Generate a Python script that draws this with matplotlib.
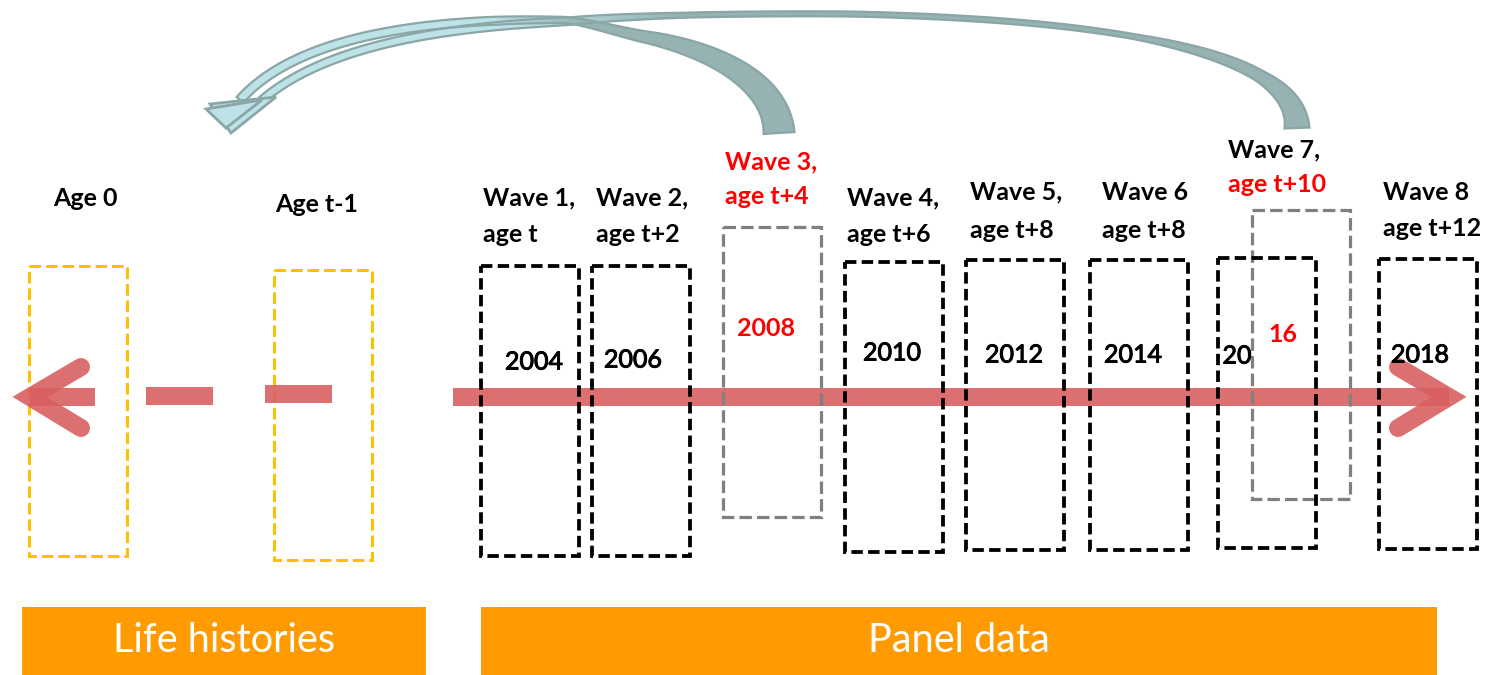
import numpy as np
import matplotlib
matplotlib.use('Agg')
import matplotlib.pyplot as plt
import matplotlib.patheffects as pe
from matplotlib.patches import Rectangle, Polygon
from matplotlib.colors import to_rgb

plt.rcParams['font.family'] = ['Lato', 'DejaVu Sans']

# diagram content
wave_labels = ["Wave 1,", "Wave 2,", "Wave 3,", "Wave 4,", "Wave 5,", "Wave 6", "Wave 7,", "Wave 8"]
age_labels = ["age t", "age t+2", "age t+4", "age t+6", "age t+8", "age t+8", "age t+10", "age t+12"]
years = ["2004", "2006", "2008", "2010", "2012", "2014", "2016", "2018"]
history_labels = ["Age 0", "Age t-1"]
section_labels = ["Life histories", "Panel data"]

# layout (pixel coords, y downwards)
box_x = [481, 592, 723, 845, 966, 1090, 1218, 1379]
box_top = [266, 266, 227, 262, 260, 260, 258, 259]
box_w = 98
box_h = 290
lab_x = [483, 596, 725, 847, 970, 1102, 1228, 1383]
lab_y1 = [198, 198, 162, 198, 192, 192, 150, 192]
lab_y2 = [235, 235, 197, 235, 230, 230, 185, 229]
year_x = [534, 633, 766, 892, 1014, 1133, 1237, 1420]
year_y = [362, 360, 328, 353, 355, 355, 356, 355]

hist_box_x = [29, 274]
hist_box_top = [266, 270]
hist_lab_x = [85, 317]
hist_lab_y = [198, 205]

RED = '#FF0000'
ARROW = '#D95F5F'
TEAL = '#8AA6A6'
PX = 0.72  # px -> pt at 100 dpi

fig = plt.figure(figsize=(14.95, 6.75), dpi=100)
ax = fig.add_axes([0, 0, 1, 1])
ax.set_xlim(0, 1495)
ax.set_ylim(675, 0)
ax.axis('off')

dash = (0, (3.9, 1.6))
bdash = (0, (3.0, 1.4))
medium = [pe.withStroke(linewidth=0.7, foreground='black')]

# red time arrow
aw = 18 * PX
kw = dict(color=ARROW, lw=aw, alpha=0.9)
ax.plot([453, 1449], [397, 397], solid_capstyle='butt', zorder=2, **kw)
ax.plot([1398, 1449, 1398], [367, 397, 428], solid_capstyle='round',
        solid_joinstyle='miter', zorder=2, **kw)
ax.plot([95, 30], [397, 397], solid_capstyle='butt', zorder=4, **kw)
ax.plot([81, 30, 81], [367, 397, 428], solid_capstyle='round',
        solid_joinstyle='miter', zorder=4, **kw)
ax.plot([146, 213], [396, 396], solid_capstyle='butt', zorder=4, **kw)
ax.plot([265, 332], [394, 394], solid_capstyle='butt', zorder=4, **kw)

# life history boxes
for x, t, lab, lx, ly in zip(hist_box_x, hist_box_top, history_labels, hist_lab_x, hist_lab_y):
    ax.add_patch(Rectangle((x, t), box_w, box_h, fill=False, ec='#FFC000', lw=3 * PX,
                           ls=dash, zorder=3))
    ax.text(lx, ly, lab, ha='center', va='center', fontsize=18, fontweight='bold')

# panel waves
for i in range(len(years)):
    grey = i == 2
    ax.add_patch(Rectangle((box_x[i], box_top[i]), box_w, box_h, fill=False,
                           ec='#808080' if grey else 'black', lw=(3.2 if grey else 3.8) * PX,
                           ls=dash if grey else bdash, zorder=3 if grey else 5))
    c1 = RED if i == 2 else 'black'
    c2 = RED if i in (2, 6) else 'black'
    ax.text(lab_x[i], lab_y1[i], wave_labels[i], ha='left', va='center', fontsize=18,
            fontweight='bold', color=c1)
    ax.text(lab_x[i], lab_y2[i], age_labels[i], ha='left', va='center', fontsize=18,
            fontweight='bold', color=c2)
    if i == 6:
        ax.text(year_x[i], year_y[i], years[i][:2], ha='center', va='center', fontsize=18,
                path_effects=medium, zorder=6)
        ax.text(year_x[i] + 46, year_y[i] - 21, years[i][2:], ha='center', va='center',
                fontsize=18, fontweight='bold', color=RED, zorder=6)
    elif i == 2:
        ax.text(year_x[i], year_y[i], years[i], ha='center', va='center', fontsize=18,
                fontweight='bold', color=RED, zorder=6)
    else:
        ax.text(year_x[i], year_y[i], years[i], ha='center', va='center', fontsize=18,
                path_effects=medium, zorder=6)

# extra grey box for wave 7 (shifted)
ax.add_patch(Rectangle((1252, 210), box_w, box_h - 1, fill=False, ec='#808080',
                       lw=3.2 * PX, ls=dash, zorder=4))

# section bars
for (x0, x1), lab in zip([(22, 426), (481, 1437)], section_labels):
    ax.add_patch(Rectangle((x0, 607), x1 - x0, 70, color='#FF9A00', lw=0, zorder=2))
    ax.text((x0 + x1) / 2, 641, lab, ha='center', va='center', fontsize=28.5, color='white', zorder=3)


# curved teal arrows back to the life histories
def bez(p0, p1, p2, p3, n=60):
    t = np.linspace(0, 1, n)[:, None]
    p0, p1, p2, p3 = map(np.array, (p0, p1, p2, p3))
    return (1 - t) ** 3 * p0 + 3 * (1 - t) ** 2 * t * p1 + 3 * (1 - t) * t ** 2 * p2 + t ** 3 * p3


def ribbon(segs, wkeys, ckeys):
    pts = np.vstack([bez(*s) for s in segs])
    seglen = np.r_[0, np.cumsum(np.linalg.norm(np.diff(pts, axis=0), axis=1))]
    s = seglen / seglen[-1]
    d = np.gradient(pts, axis=0)
    d /= np.linalg.norm(d, axis=1)[:, None]
    nrm = np.column_stack([-d[:, 1], d[:, 0]])
    w = np.interp(s, [k[0] for k in wkeys], [k[1] for k in wkeys])
    fc = np.interp(s, [k[0] for k in ckeys], [k[1] for k in ckeys])
    left = pts + nrm * w[:, None] / 2
    right = pts - nrm * w[:, None] / 2
    dark, light = np.array(to_rgb('#96B2B2')), np.array(to_rgb('#BDE3E8'))
    for j in range(len(pts) - 1):
        col = dark + (light - dark) * fc[j]
        quad = [left[j], left[j + 1], right[j + 1], right[j]]
        ax.add_patch(Polygon(quad, closed=True, fc=col, ec=col, lw=0.6, zorder=3))
    ax.add_patch(Polygon(np.vstack([left, right[::-1]]), closed=True, fill=False, ec=TEAL,
                         lw=1.6, zorder=3.5))


arrow7 = [((1297, 128), (1297, 60), (1150, 20), (850, 14)),
          ((850, 14), (700, 13), (610, 17), (572, 21)),
          ((572, 21), (470, 26), (335, 38), (262, 100))]
arrow3 = [((779, 133), (777, 85), (720, 50), (640, 36)),
          ((640, 36), (605, 28), (585, 22), (565, 20)),
          ((565, 20), (440, 18), (300, 32), (240, 100))]
ribbon(arrow7, [(0, 25), (0.06, 12), (0.18, 5), (0.6, 5), (0.72, 8), (1, 8)],
       [(0, 0), (0.6, 0), (0.75, 1), (1, 1)])
ribbon(arrow3, [(0, 31), (0.15, 20), (0.3, 11), (0.42, 6), (0.55, 8), (1, 9)],
       [(0, 0), (0.4, 0), (0.55, 1), (1, 1)])

# arrowheads (two overlapping, sketchy)
heads = [[(231, 133), (210, 104), (276, 97)],
         [(226, 128), (206, 109), (262, 100)]]
for tri in heads:
    ax.add_patch(Polygon(tri, closed=True, fc='#BDE3E8', ec=TEAL, lw=2, zorder=4))

fig.savefig('out.png', dpi=100)
